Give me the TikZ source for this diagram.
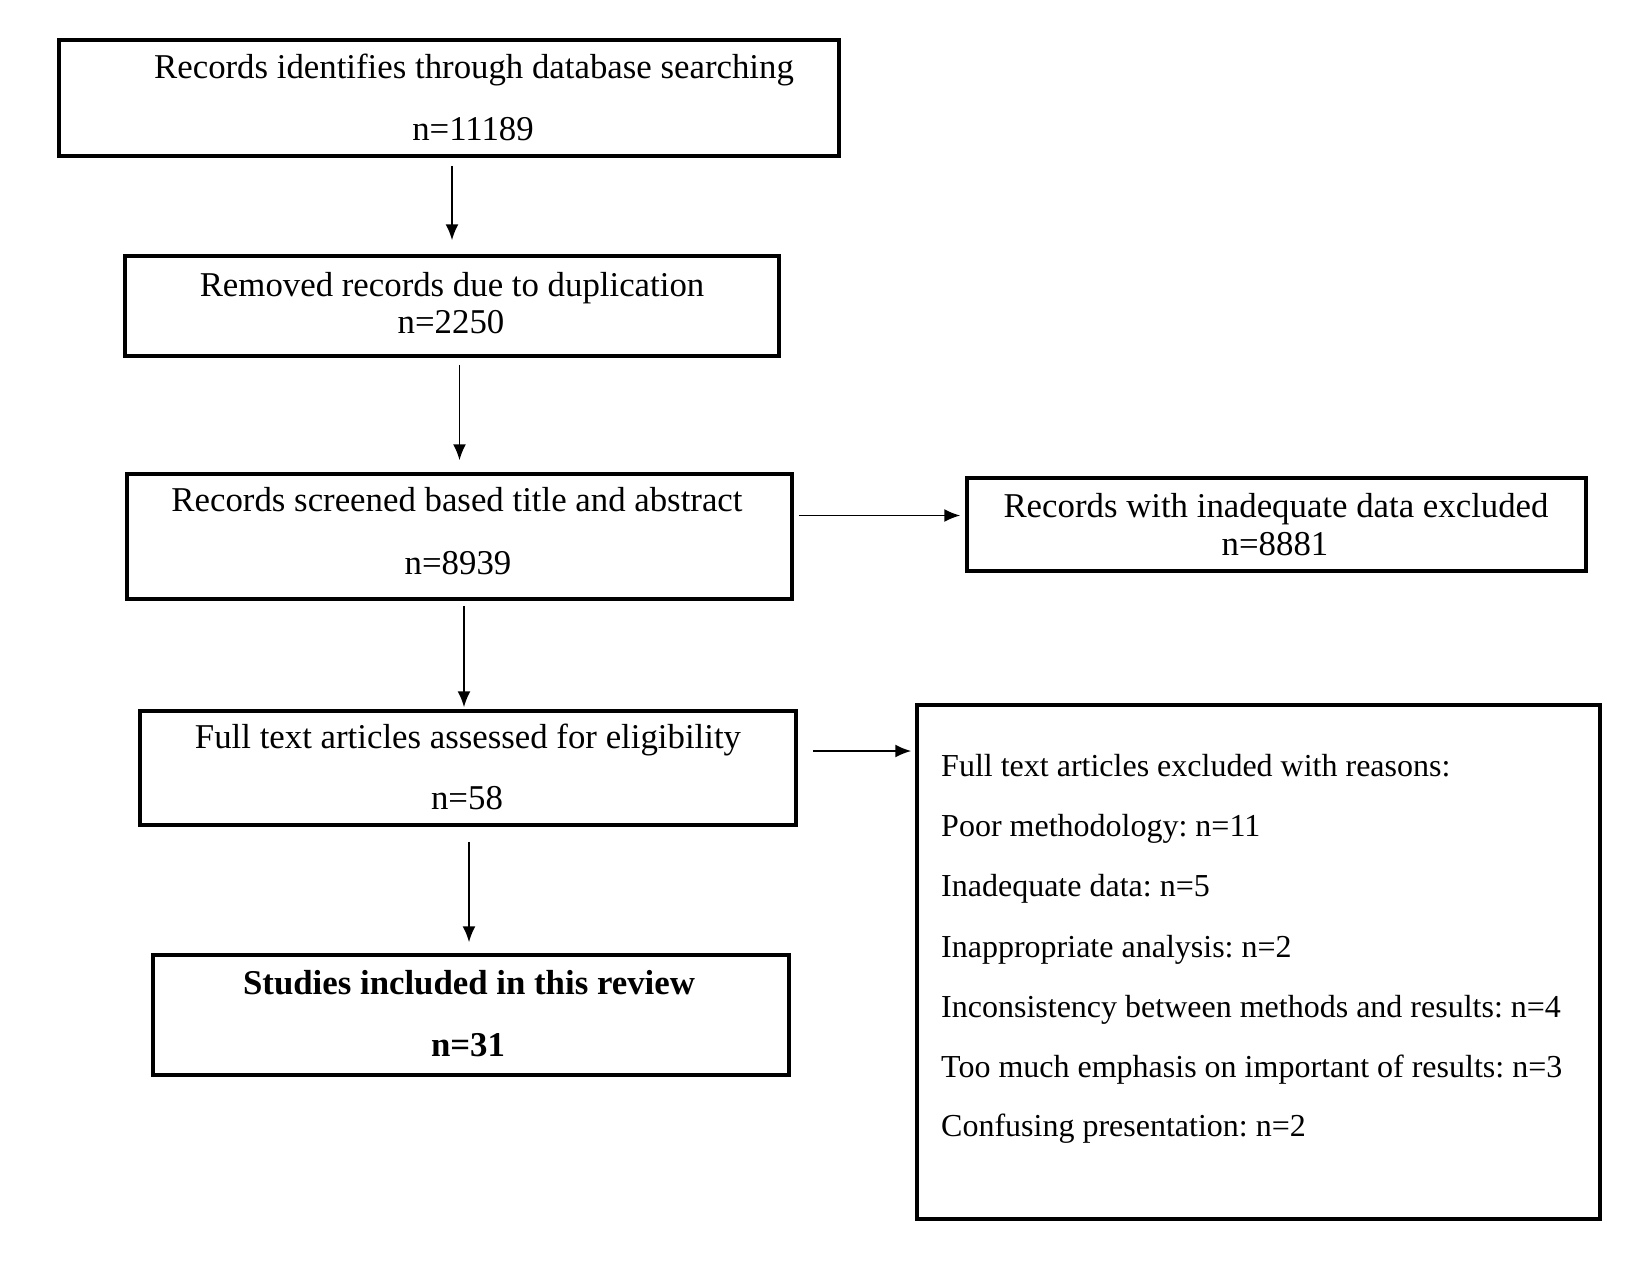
\documentclass[tikz,border=0pt]{standalone}
\usepackage{fontspec}
\setmainfont{Liberation Serif}
\usetikzlibrary{arrows.meta}
\frenchspacing
\begin{document}
\begin{tikzpicture}[x=1pt,y=-1pt,
  box/.style={draw=black, line width=3.5pt, rectangle, inner sep=0pt},
  txt/.style={inner sep=0pt, anchor=base, font=\fontsize{34.8}{40}\selectfont},
  btxt/.style={txt, font=\fontsize{34.8}{40}\selectfont\bfseries},
  rtxt/.style={inner sep=0pt, anchor=base west, font=\fontsize{32}{38}\selectfont},
  arr/.style={draw=black, line width=1.8pt, -{Latex[length=16pt,width=13pt]}}]
\useasboundingbox[fill=white] (0,0) rectangle (1632,1267);

% boxes
\node[box, minimum width=780, minimum height=116] (b1) at (449,98) {};
\node[box, minimum width=654, minimum height=100] (b2) at (452,306) {};
\node[box, minimum width=665, minimum height=125] (b3) at (459.5,536.5) {};
\node[box, minimum width=619, minimum height=93] (b4) at (1276.5,524.5) {};
\node[box, minimum width=656, minimum height=114] (b5) at (468,768) {};
\node[box, minimum width=683, minimum height=514] (b6) at (1258.5,962) {};
\node[box, minimum width=636, minimum height=120] (b7) at (471,1015) {};

% texts
\node[txt] (t1a) at (474,78) {Records identifies through database searching};
\node[txt] (t1b) at (473,140) {n=11189};
\node[txt] (t2a) at (452,296) {Removed records due to duplication};
\node[txt] (t2b) at (451,333) {n=2250};
\node[txt] (t3a) at (457,511) {Records screened based title and abstract};
\node[txt] (t3b) at (458,574) {n=8939};
\node[txt] (t4a) at (1276,517) {Records with inadequate data excluded};
\node[txt] (t4b) at (1275,555) {n=8881};
\node[txt] (t5a) at (468,748) {Full text articles assessed for eligibility};
\node[txt] (t5b) at (467,809) {n=58};
\node[btxt] (t7a) at (469,994) {Studies included in this review};
\node[btxt] (t7b) at (468,1056) {n=31};

\node[rtxt] (r1) at (941,776) {Full text articles excluded with reasons:};
\node[rtxt] (r2) at (941,836) {Poor methodology: n=11};
\node[rtxt] (r3) at (941,896) {Inadequate data: n=5};
\node[rtxt] (r4) at (941,957) {Inappropriate analysis: n=2};
\node[rtxt] (r5) at (941,1017) {Inconsistency between methods and results: n=4};
\node[rtxt] (r6) at (941,1077) {Too much emphasis on important of results: n=3};
\node[rtxt] (r7) at (941,1136) {Confusing presentation: n=2};

% arrows
\draw[arr, shorten <=8pt, shorten >=14pt] (b1.south -| b2.north) -- (b2.north);
\draw[arr, shorten <=7pt, shorten >=12pt] (b2.south -| b3.north) -- (b3.north);
\draw[arr, shorten <=5pt, shorten >=2pt] ([xshift=4.5pt]b3.south) -- ([xshift=4.5pt]b3.south |- b5.north);
\draw[arr, shorten <=15pt, shorten >=11pt] ([xshift=1pt]b5.south) -- ([xshift=1pt]b5.south |- b7.north);
\draw[arr, shorten <=5pt, shorten >=5pt] ([yshift=21pt]b3.east) -- ([yshift=21pt]b3.east -| b4.west);
\draw[arr, shorten <=15pt, shorten >=4pt] ([yshift=17pt]b5.east) -- ([yshift=17pt]b5.east -| b6.west);
\end{tikzpicture}
\end{document}
